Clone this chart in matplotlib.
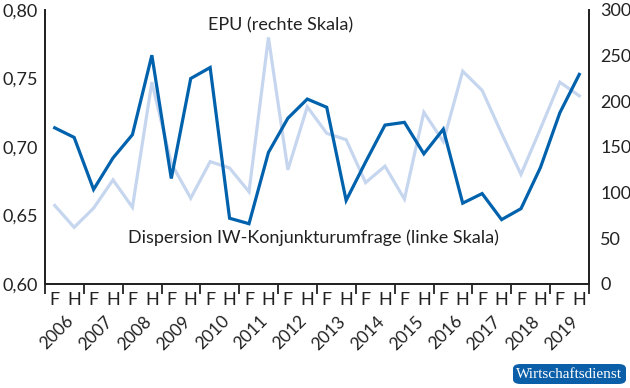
import matplotlib.pyplot as plt
from matplotlib.patches import FancyBboxPatch
import matplotlib.transforms as mtransforms

plt.rcParams['font.family'] = ['Lato', 'DejaVu Sans']

# half years 2006 F .. 2019 H
years = [str(y) for y in range(2006, 2020)]
halves = ['F', 'H'] * len(years)

# Dispersion IW-Konjunkturumfrage (linke Skala)
dispersion = [0.714, 0.707, 0.669, 0.692, 0.709, 0.767, 0.677, 0.750, 0.758, 0.648,
              0.644, 0.696, 0.721, 0.735, 0.729, 0.661, 0.689, 0.716, 0.718, 0.695,
              0.713, 0.659, 0.666, 0.647, 0.655, 0.685, 0.725, 0.753]
# EPU (rechte Skala)
epu = [86, 62, 83, 114, 84, 221, 132, 94, 134, 127,
       101, 270, 125, 194, 165, 158, 111, 129, 93, 188,
       156, 233, 212, 165, 120, 170, 221, 206]

dark = '#0062ac'
light = '#c6d6ef'

fig = plt.figure(figsize=(6.3, 3.88), dpi=100)
ax = fig.add_axes([45/630, 1-284/388, 544/630, 274/388])
ax2 = ax.twinx()

x = list(range(len(dispersion)))
ax2.plot(x, epu, color=light, lw=2.3, solid_joinstyle='miter')
ax.plot(x, dispersion, color=dark, lw=2.3, solid_joinstyle='miter', zorder=5)
ax.set_zorder(ax2.get_zorder() + 1)
ax.patch.set_visible(False)

ax.set_xlim(-0.5, len(x) - 0.5)
ax.set_ylim(0.60, 0.80)
ax2.set_ylim(0, 300)

ax.set_yticks([0.60, 0.65, 0.70, 0.75, 0.80])
ax.set_yticklabels(['0,60', '0,65', '0,70', '0,75', '0,80'])
ax2.set_yticks([0, 50, 100, 150, 200, 250, 300])
ax.tick_params(axis='y', length=0, labelsize=13, pad=5, colors='#222222')
ax2.tick_params(axis='y', length=0, labelsize=13, pad=8, colors='#222222')

# year boundaries as major ticks, F/H as minor labels
ax.set_xticks([i - 0.5 for i in range(0, len(x) + 1, 2)])
ax.set_xticklabels([])
ax.tick_params(axis='x', which='major', length=7, width=1.3, color='#222222')
ax.set_xticks(x, minor=True)
ax.set_xticklabels(halves, minor=True)
ax.tick_params(axis='x', which='minor', length=0, labelsize=13, pad=6, colors='#222222')

trans = mtransforms.blended_transform_factory(ax.transData, fig.transFigure)
for i, yr in enumerate(years):
    ax.text(2 * i + 0.55, 1 - 313/388, yr, transform=trans, rotation=45,
            ha='right', va='top', fontsize=12.5, color='#222222', rotation_mode='anchor')

for a in (ax, ax2):
    a.spines['top'].set_visible(False)
    for s in ('left', 'right', 'bottom'):
        a.spines[s].set_linewidth(1.3)
        a.spines[s].set_color('#222222')

fig.text(208/630, 1 - 25/388, 'EPU (rechte Skala)', fontsize=13, va='center', color='#222222')
fig.text(128/630, 1 - 238/388, 'Dispersion IW-Konjunkturumfrage (linke Skala)',
         fontsize=13, va='center', color='#222222')

# badge
badge = FancyBboxPatch((513/630, 1 - 384/388), 113/630, 20/388,
                       boxstyle='round,pad=0,rounding_size=0.012',
                       transform=fig.transFigure, facecolor='#0a5fa8', edgecolor='none')
fig.patches.append(badge)
fig.text(569/630, 1 - 374/388, 'Wirtschaftsdienst', fontsize=11, family='Liberation Serif',
         color='white', ha='center', va='center')

fig.savefig('out.png', dpi=100)
